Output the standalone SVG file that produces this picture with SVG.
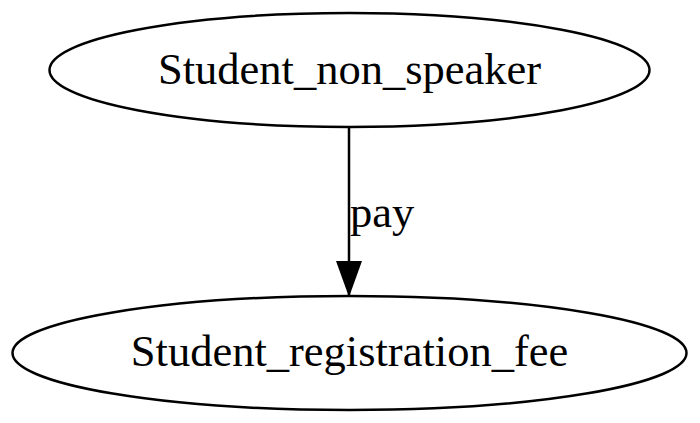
<svg xmlns="http://www.w3.org/2000/svg" width="700" height="423" viewBox="0 0 700 423">
<style>
.n{fill:none;stroke:#000;stroke-width:2.5}
.t{font-family:"Liberation Serif","Times New Roman",serif;font-size:44.5px;fill:#000}
</style>
<defs>
<marker id="ah" markerWidth="36" markerHeight="26" refX="36" refY="13" orient="auto" markerUnits="userSpaceOnUse" viewBox="0 0 36 26">
<path d="M0,0 L36,13 L0,26 Z" fill="#000"/>
</marker>
</defs>
<rect width="700" height="423" fill="#fff"/>
<g id="connectors">
<line x1="349" y1="127" x2="349" y2="297" stroke="#000" stroke-width="2.5" marker-end="url(#ah)"/>
<text class="t" x="350" y="227">pay</text>
</g>
<g id="node1">
<ellipse class="n" cx="349.5" cy="70" rx="300" ry="57"/>
<text class="t" x="349.5" y="84" text-anchor="middle">Student_non_speaker</text>
</g>
<g id="node2">
<ellipse class="n" cx="349.5" cy="353" rx="337" ry="57"/>
<text class="t" x="349.5" y="366" text-anchor="middle">Student_registration_fee</text>
</g>
</svg>
